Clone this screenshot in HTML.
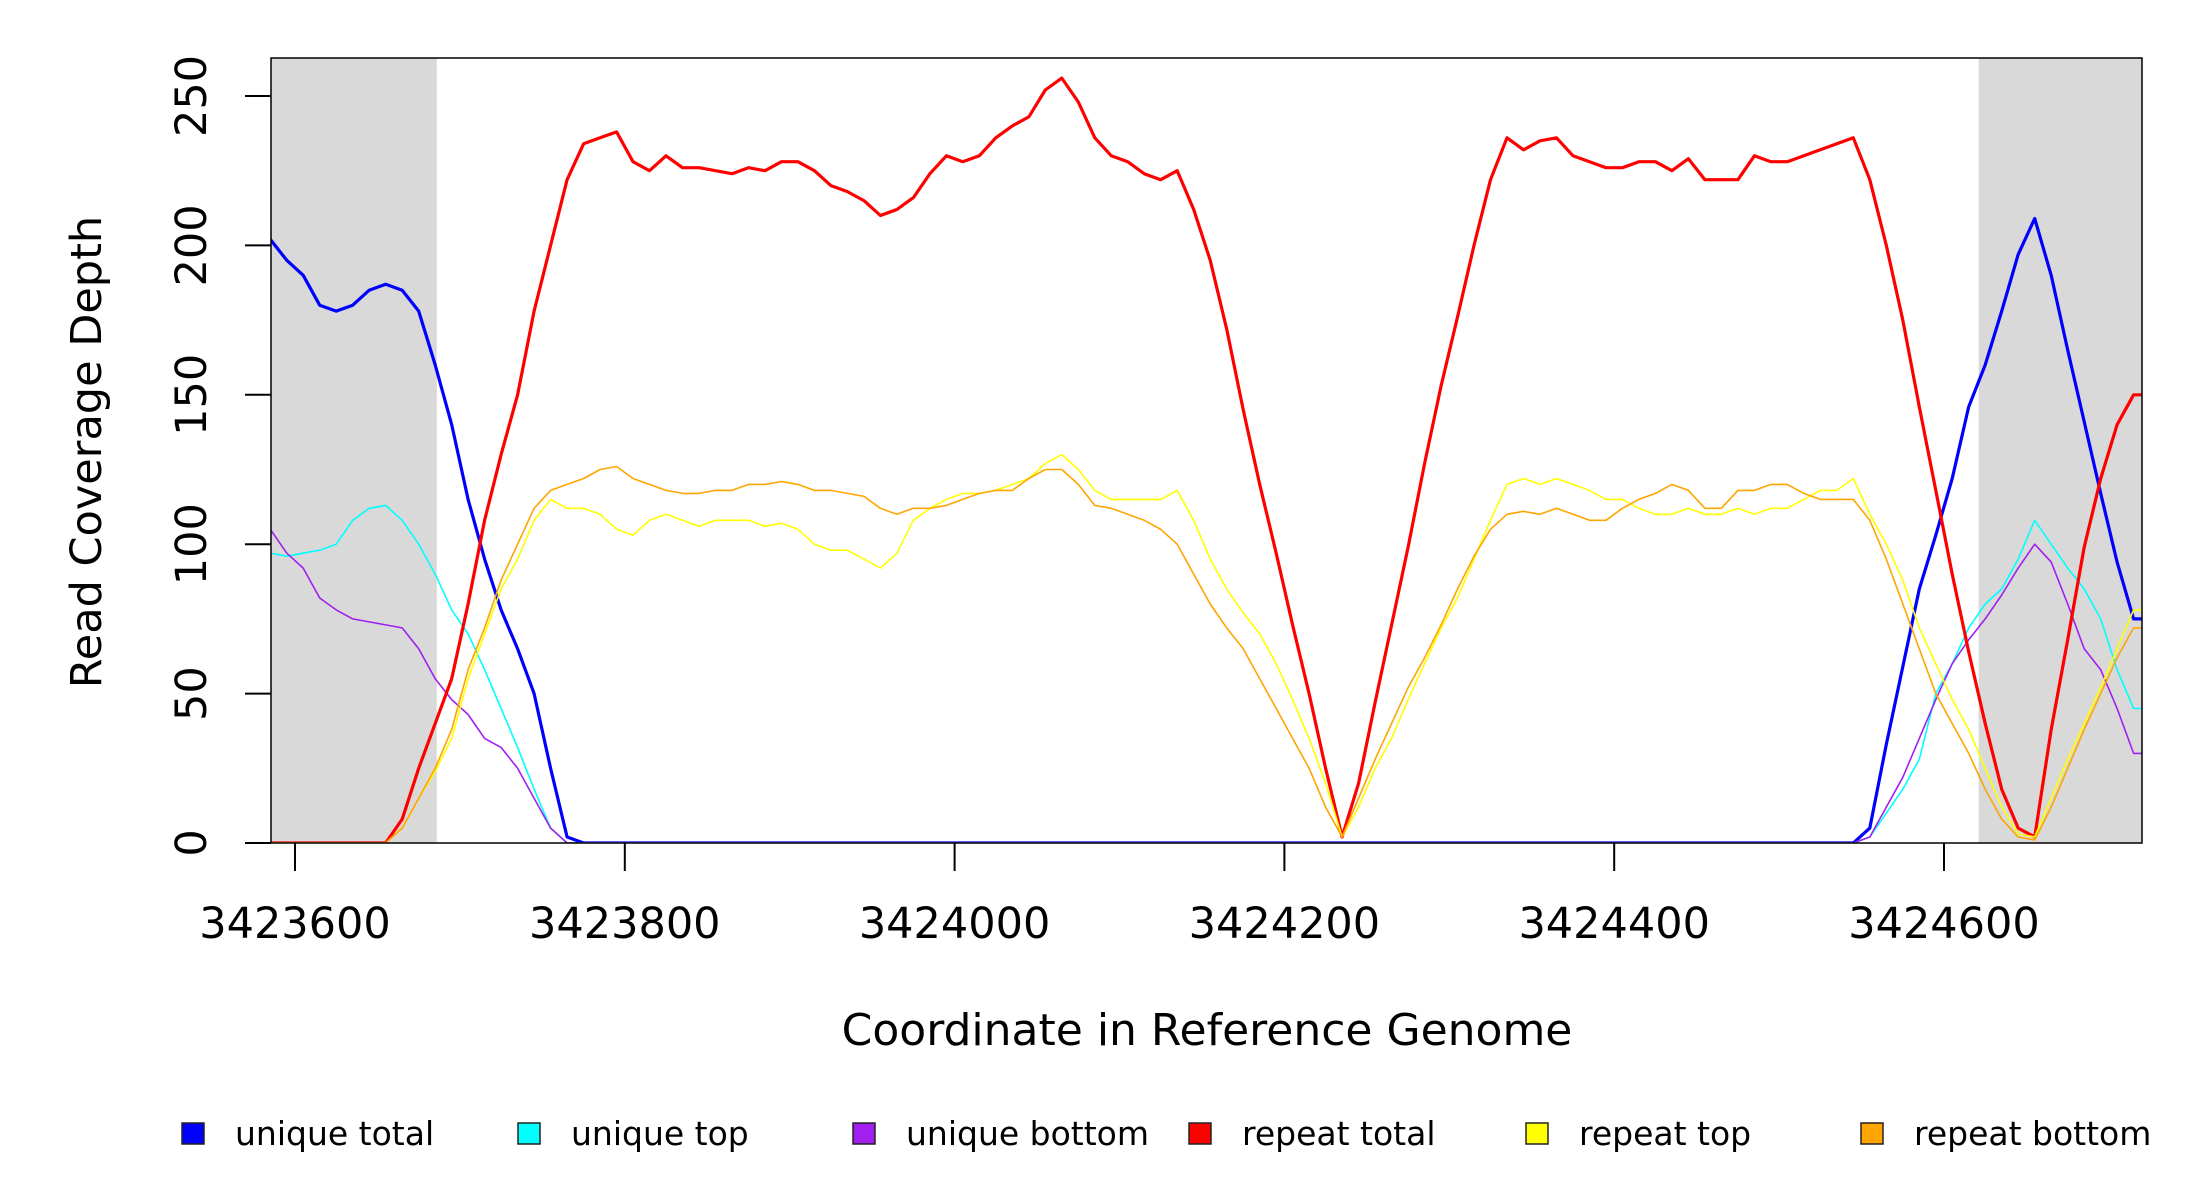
<!DOCTYPE html>
<html><head><meta charset="utf-8"><style>
html,body{margin:0;padding:0;background:#fff;}
svg{display:block;font-family:"DejaVu Sans","Liberation Sans",sans-serif;}
</style></head>
<body>
<svg id="chart" width="2200" height="1200" viewBox="0 0 2200 1200" xmlns="http://www.w3.org/2000/svg">
<rect width="2200" height="1200" fill="#fff"/>
<g id="shade"></g>
<g id="series"></g>
<g id="axes"></g>
<text x="1207" y="1045" font-size="44" text-anchor="middle">Coordinate in Reference Genome</text>
<text transform="translate(101,452) rotate(-90)" font-size="43" text-anchor="middle">Read Coverage Depth</text>
<g id="legend"></g>
</svg>
<script>
const xStart = 3423585;
const xStep = 10;
const xTicks = [3423600, 3423800, 3424000, 3424200, 3424400, 3424600];
const yTicks = [0, 50, 100, 150, 200, 250];
const shadeRegions = [[3423585, 3423686], [3424621, 3424720]];
const seriesNames = ["unique total","unique top","unique bottom","repeat total","repeat top","repeat bottom"];
const seriesColors = ["#0000ff","#00ffff","#a020f0","#ff0000","#ffff00","#ffa500"];

const z = n => Array(n).fill(0);
const uniqueTotal = [202,195,190,180,178,180,185,187,185,178,160,140,115,95,78,65,50,25,2].concat(z(78)).concat([5,33,59,85,103,122,146,160,178,197,209,190,165,141,117,94,75]);
const uniqueTop = [97,96,97,98,100,108,112,113,108,100,90,78,70,58,45,32,18,5,0].concat(z(78)).concat([2,10,18,28,50,60,72,80,85,95,108,100,92,85,75,58,45]);
const uniqueBottom = [105,97,92,82,78,75,74,73,72,65,55,48,43,35,32,25,15,5,0].concat(z(78)).concat([2,12,22,35,48,60,68,75,83,92,100,94,80,65,58,45,30]);
const repeatTotal = [0,0,0,0,0,0,0,0,8,25,40,55,80,108,130,150,178,200,222,234,236,238,228,225,230,226,226,225,224,226,225,228,228,225,220,218,215,210,212,216,224,230,228,230,236,240,243,252,256,248,236,230,228,224,222,225,212,195,172,145,120,97,73,50,25,2,20,47,73,99,127,153,176,200,222,236,232,235,236,230,228,226,226,228,228,225,229,222,222,222,230,228,228,230,232,234,236,222,200,175,146,118,90,64,40,18,5,2,38,68,99,122,140,150];
const repeatTop = [0,0,0,0,0,0,0,0,5,15,24,35,55,70,85,95,108,115,112,112,110,105,103,108,110,108,106,108,108,108,106,107,105,100,98,98,95,92,97,108,112,115,117,117,118,120,122,127,130,125,118,115,115,115,115,118,108,95,85,77,70,60,48,35,20,2,12,25,35,48,60,72,82,95,108,120,122,120,122,120,118,115,115,112,110,110,112,110,110,112,110,112,112,115,118,118,122,110,100,88,72,60,48,38,25,12,3,2,15,28,40,52,65,78];
const repeatBottom = [0,0,0,0,0,0,0,0,5,15,25,38,58,72,88,100,112,118,120,122,125,126,122,120,118,117,117,118,118,120,120,121,120,118,118,117,116,112,110,112,112,113,115,117,118,118,122,125,125,120,113,112,110,108,105,100,90,80,72,65,55,45,35,25,12,2,15,28,40,52,62,73,85,96,105,110,111,110,112,110,108,108,112,115,117,120,118,112,112,118,118,120,120,117,115,115,115,108,95,80,65,50,40,30,18,8,2,1,12,25,38,50,62,72];
const allSeries = [uniqueTotal, uniqueTop, uniqueBottom, repeatTotal, repeatTop, repeatBottom];
const widths = [3.2,1.6,1.6,3.2,1.6,1.6];

const L=271,R=2142,T=58,B=843;
const xScale = v => 295 + (v-3423600)*(1944-295)/1000;
const yScale = v => B - v*(B-96)/250;
const NS="http://www.w3.org/2000/svg";
function mk(tag, attrs, parent){const e=document.createElementNS(NS,tag);for(const k in attrs)e.setAttribute(k,attrs[k]);parent.appendChild(e);return e;}

const shade=document.getElementById('shade');
shadeRegions.forEach((r,i)=>{
  const x1=Math.max(L,xScale(r[0])), x2=Math.min(R,xScale(r[1]));
  const e=mk('rect',{x:x1,y:T,width:x2-x1,height:B-T,fill:'#d9d9d9'},shade);
  
  
});

const sg=document.getElementById('series');
const clip=mk('clipPath',{id:'plotclip'},sg);
mk('rect',{x:L,y:T,width:R-L,height:B-T},clip);
allSeries.forEach((arr,s)=>{
  let d='';
  arr.forEach((v,i)=>{const x=xScale(xStart+i*xStep);d+=(i?'L':'M')+x.toFixed(1)+' '+yScale(v).toFixed(1);});
  const last=arr[arr.length-1];
  d+='L'+xScale(xStart+arr.length*xStep).toFixed(1)+' '+yScale(last).toFixed(1);
  const p=mk('path',{d:d,fill:'none',stroke:seriesColors[s],'stroke-width':widths[s],'stroke-linejoin':'round','clip-path':'url(#plotclip)'},sg);
  
  
});

const ax=document.getElementById('axes');
const box=mk('rect',{x:L,y:T,width:R-L,height:B-T,fill:'none',stroke:'#000','stroke-width':1.5},ax);


xTicks.forEach(t=>{
  const x=xScale(t);
  const tk=mk('line',{x1:x,y1:B,x2:x,y2:B+28,stroke:'#000','stroke-width':2},ax);
  
  
  const tx=mk('text',{x:x,y:938,'font-size':43,'text-anchor':'middle'},ax);
  tx.textContent=t;
  
  
});
yTicks.forEach(t=>{
  const y=yScale(t);
  const tk=mk('line',{x1:245,y1:y,x2:L,y2:y,stroke:'#000','stroke-width':2},ax);
  
  
  const tx=mk('text',{transform:'translate(206,'+y+') rotate(-90)','font-size':43,'text-anchor':'middle'},ax);
  tx.textContent=t;
  
  
});

const lg=document.getElementById('legend');
const legX=[182,518,853,1189,1526,1861];
seriesNames.forEach((n,i)=>{
  const g=mk('g',{},lg);
  
  
  mk('rect',{x:legX[i],y:1123,width:22,height:21,fill:seriesColors[i],stroke:'#222','stroke-width':1.5},g);
  const t=mk('text',{x:legX[i]+53,y:1145,'font-size':33},g);
  t.textContent=n;
});
</script>
</body></html>
